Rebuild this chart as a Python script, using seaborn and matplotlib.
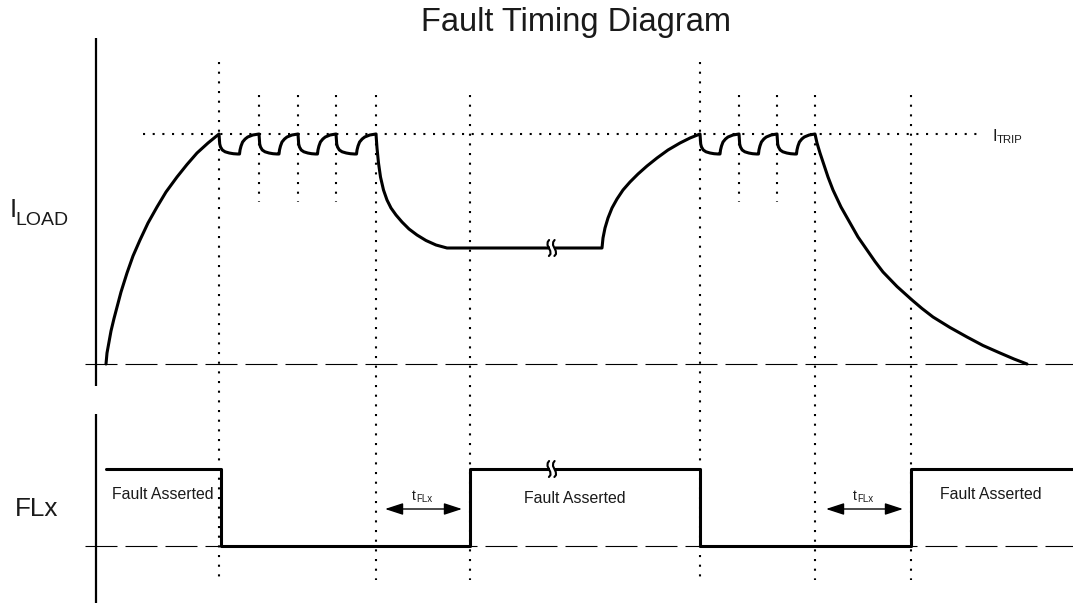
import numpy as np
import pandas as pd
import matplotlib
matplotlib.use("Agg")
import matplotlib.pyplot as plt
import seaborn as sns

# ---------------- data (diagram units = pixel grid of the reference) -------------
title = "Fault Timing Diagram"

# I_LOAD: initial charging rise
rise1_x = [106, 107, 109, 111, 114, 117, 121, 127, 133, 140, 148, 157, 166, 177, 187, 197, 208, 219]
rise1_y = [364, 353, 342, 331, 318.5, 307, 292, 273, 256, 240, 223, 207, 192, 177, 164.5, 153, 143, 134]
# ripple tooth profile (offset below I_TRIP after each trip)
tooth_dx = [0, 0.7, 1.5, 3.3, 6, 10, 14, 18, 20, 20.5, 21.5, 23, 25.5, 28, 33, 39]
tooth_dy = [0, 10, 13, 16, 17.8, 19, 19.7, 20, 20, 16, 12, 8, 5, 3, 1, 0]
peaks1 = [219, 259, 298, 336, 376]
peaks2 = [700, 739, 777, 815]
# decay after first fault to a plateau
fall1_x = [376, 377, 378.5, 380.5, 383.5, 387, 391, 396, 402, 409, 417, 426, 436, 447, 602]
fall1_y = [134, 148, 163, 177, 190, 200, 208, 215, 222, 229, 235, 240.5, 245, 248, 248]
# second rise
rise2_x = [603, 605, 608, 612, 617, 623, 630, 638, 647, 657, 668, 680, 690, 700]
rise2_y = [238, 228, 218, 208, 199, 190, 182, 174, 166, 158, 150, 143, 138, 134]
# final decay
fall2_x = [817, 820, 823, 828, 833, 841, 850, 858, 867, 875, 883, 897, 912, 922, 933,
           950, 967, 983, 1000, 1014, 1027]
fall2_y = [143, 153, 162, 177, 190, 207, 223, 237, 250, 261.5, 272, 286.5, 300, 308.5, 317,
           327.5, 337, 345.5, 353, 359, 364]

# FLx digital trace
flx_x = [106, 221, 221, 470, 470, 700, 700, 911, 911, 1073]
flx_y = [469, 469, 546, 546, 469, 469, 546, 546, 469, 469]

i_trip = 134
iload_base = 364
flx_base = 546

full_dotted_x = [219, 376, 470, 700, 815, 911]
full_dotted_top = [62, 95, 95, 62, 95, 95]
short_dotted_x = [259, 298, 336, 739, 777]

fault_labels = ["Fault Asserted", "Fault Asserted", "Fault Asserted"]
fault_label_x = [163, 575, 991]
fault_label_y = [499, 503, 499]

tflx_arrows = [(385, 462), (826, 903)]
break_x = 552
break_y = [248, 469]

# ---------------- build traces -------------------------------------------------
def teeth(peaks):
    xs, ys = [], []
    for a, b in zip(peaks[:-1], peaks[1:]):
        s = (b - a) / tooth_dx[-1]
        for dx, dy in zip(tooth_dx[:-1], tooth_dy[:-1]):
            xs.append(a + dx * s)
            ys.append(i_trip + dy)
    return xs, ys

t1x, t1y = teeth(peaks1)
t2x, t2y = teeth(peaks2)
iload_x = rise1_x[:-1] + t1x + fall1_x + rise2_x[:-1] + t2x + [peaks2[-1]] + fall2_x
iload_y = rise1_y[:-1] + t1y + fall1_y + rise2_y[:-1] + t2y + [i_trip] + fall2_y
iload = pd.DataFrame({"x": iload_x, "y": iload_y})
flx = pd.DataFrame({"x": flx_x, "y": flx_y})

# ---------------- figure ---------------------------------------------------------
sns.set_theme(style="white")
plt.rcParams["font.family"] = ["Liberation Sans", "DejaVu Sans"]

fig = plt.figure(figsize=(10.73, 6.03), dpi=100)
ax = fig.add_axes([0, 0, 1, 1])

dot = dict(color="black", lw=1.5, ls=(0, (1, 3.64)))
dash = dict(color="black", lw=0.8, ls=(0, (28.8, 7.2)))

# dotted guides
for x, top in zip(full_dotted_x, full_dotted_top):
    ax.plot([x, x], [top, 580], **dot, zorder=1)
for x in short_dotted_x:
    ax.plot([x, x], [95, 202], **dot, zorder=1)
ax.plot([143, 980], [i_trip, i_trip], **dot, zorder=1)

# dashed baselines
ax.plot([85, 1073], [iload_base, iload_base], **dash, zorder=1)
ax.plot([85, 1073], [flx_base, flx_base], **dash, zorder=1)

# vertical axes
ax.plot([96, 96], [38, 386], color="black", lw=1.6, solid_capstyle="butt")
ax.plot([96, 96], [414, 603], color="black", lw=1.6, solid_capstyle="butt")

# traces
sns.lineplot(data=iload, x="x", y="y", sort=False, estimator=None, color="black",
             lw=2.2, ax=ax, zorder=3)
sns.lineplot(data=flx, x="x", y="y", sort=False, estimator=None, color="black",
             lw=2.2, ax=ax, zorder=3)
ax.set_xlim(0, 1073)
ax.set_ylim(603, 0)
ax.axis("off")

# break symbols
sq_dx = [1.6, 0.2, 0.0, 1.4, 2.8, 3.0, 1.4]
sq_dy = [-8, -6, -3, 0, 3, 6, 8]
for by in break_y:
    ax.fill_between([break_x - 2.5, break_x + 2.5], by - 3, by + 3, color="white", zorder=4, lw=0)
    for off in (-4.5, 1.0):
        ax.plot([break_x + off + d for d in sq_dx], [by + d for d in sq_dy],
                color="black", lw=1.5, zorder=5, solid_capstyle="round")

# texts
ax.text(576, 31, title, fontsize=23.5, ha="center", va="baseline", color="#1a1a1a")
ax.text(10, 217, "I", fontsize=18.5, ha="left", va="baseline", color="#1a1a1a")
ax.text(15, 225, "LOAD", fontsize=14, ha="left", va="baseline", color="#1a1a1a")
ax.text(15, 516, "FLx", fontsize=18.8, ha="left", va="baseline", color="#1a1a1a")
ax.text(992.5, 141, "I", fontsize=12, ha="left", va="baseline", color="#1a1a1a")
ax.text(997, 143, "TRIP", fontsize=8.2, ha="left", va="baseline", color="#1a1a1a")

for lab, x, y in zip(fault_labels, fault_label_x, fault_label_y):
    ax.text(x, y, lab, fontsize=11.4, ha="center", va="baseline", color="#1a1a1a")

for x0, x1 in tflx_arrows:
    ax.annotate("", xy=(x1, 509), xytext=(x0, 509),
                arrowprops=dict(arrowstyle="<|-|>,head_length=1.1,head_width=0.36",
                                color="black", lw=1, shrinkA=0, shrinkB=0,
                                mutation_scale=10))
    ax.text(x0 + 27, 500, "t", fontsize=10, ha="left", va="baseline", color="#1a1a1a")
    ax.text(x0 + 31.5, 501.5, "FLx", fontsize=7, ha="left", va="baseline", color="#1a1a1a")

fig.savefig("out.png", dpi=100)
